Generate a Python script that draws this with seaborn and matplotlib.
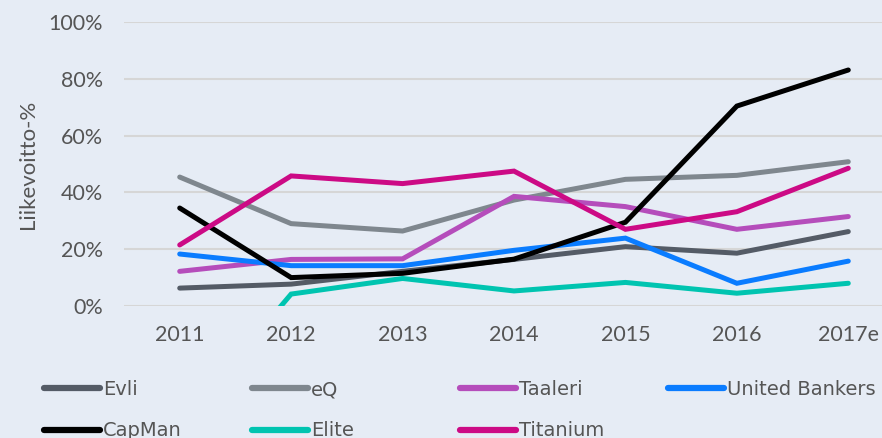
import matplotlib
matplotlib.use("Agg")
import matplotlib.pyplot as plt
import seaborn as sns
import pandas as pd

years = ["2011", "2012", "2013", "2014", "2015", "2016", "2017e"]

evli = [6.3, 7.7, 12.2, 16.4, 20.9, 18.6, 26.2]
eq = [45.4, 29.0, 26.4, 37.3, 44.6, 46.0, 50.8]
taaleri = [12.2, 16.4, 16.6, 38.6, 35.0, 27.0, 31.5]
united_bankers = [18.3, 14.2, 14.2, 19.6, 23.9, 8.0, 15.8]
capman = [34.5, 10.0, 11.5, 16.5, 29.5, 70.4, 83.1]
elite = [-42.0, 4.2, 9.7, 5.3, 8.3, 4.5, 8.0]
titanium = [21.5, 45.8, 43.1, 47.5, 27.0, 33.2, 48.5]

series = {
    "Evli": evli,
    "eQ": eq,
    "Taaleri": taaleri,
    "United Bankers": united_bankers,
    "CapMan": capman,
    "Elite": elite,
    "Titanium": titanium,
}
colors = {
    "Evli": "#545b66",
    "eQ": "#7f878e",
    "Taaleri": "#b54dbb",
    "United Bankers": "#0a7cff",
    "CapMan": "#000000",
    "Elite": "#00c4b0",
    "Titanium": "#cc0a85",
}

rows = []
for name, vals in series.items():
    for i, v in enumerate(vals):
        rows.append({"year": i, "company": name, "value": v})
df = pd.DataFrame(rows)

bg = "#e6ecf5"
txt = "#555555"

sns.set_theme(style="white")
plt.rcParams["font.family"] = ["Lato", "DejaVu Sans"]

fig = plt.figure(figsize=(8.82, 4.38), dpi=100, facecolor=bg)
ax = fig.add_axes([124 / 882, 1 - 306 / 438, (904 - 124) / 882, (306 - 22) / 438])
ax.set_facecolor(bg)

sns.lineplot(data=df, x="year", y="value", hue="company", palette=colors,
             hue_order=list(series.keys()), linewidth=3.6, ax=ax,
             solid_capstyle="round", solid_joinstyle="miter", legend=False)

ax.set_xlim(-0.5, 6.5)
ax.set_ylim(0, 100)
ax.set_yticks([0, 20, 40, 60, 80, 100])
ax.set_yticklabels([f"{t}%" for t in range(0, 101, 20)])
ax.set_xticks(range(len(years)))
ax.set_xticklabels(years)
ax.tick_params(axis="both", length=0, labelsize=15.5, labelcolor=txt)
ax.tick_params(axis="y", pad=15)
ax.tick_params(axis="x", pad=14)
ax.yaxis.grid(True, color="#d6d6d6", linewidth=1.5)
ax.set_axisbelow(True)
for s in ax.spines.values():
    s.set_visible(False)
ax.set_xlabel("")
ax.set_ylabel("Liikevoitto-%", fontsize=16, color=txt, labelpad=8)

# legend: 4 fixed columns, 2 rows
columns = [["Evli", "CapMan"], ["eQ", "Elite"], ["Taaleri", "Titanium"], ["United Bankers"]]
col_x = [44, 252, 460, 668]
for names, x0 in zip(columns, col_x):
    handles = [plt.Line2D([], [], color=colors[n], linewidth=4.5, solid_capstyle="round") for n in names]
    leg = fig.legend(handles, names, loc="upper left", bbox_to_anchor=(x0 / 882, 1 - 380 / 438),
                     frameon=False, handlelength=2.9, handletextpad=0.15,
                     labelspacing=1.15, borderaxespad=0, borderpad=0,
                     prop={"family": "DejaVu Sans", "size": 14}, labelcolor=txt)

fig.savefig("out.png", dpi=100, facecolor=bg)
